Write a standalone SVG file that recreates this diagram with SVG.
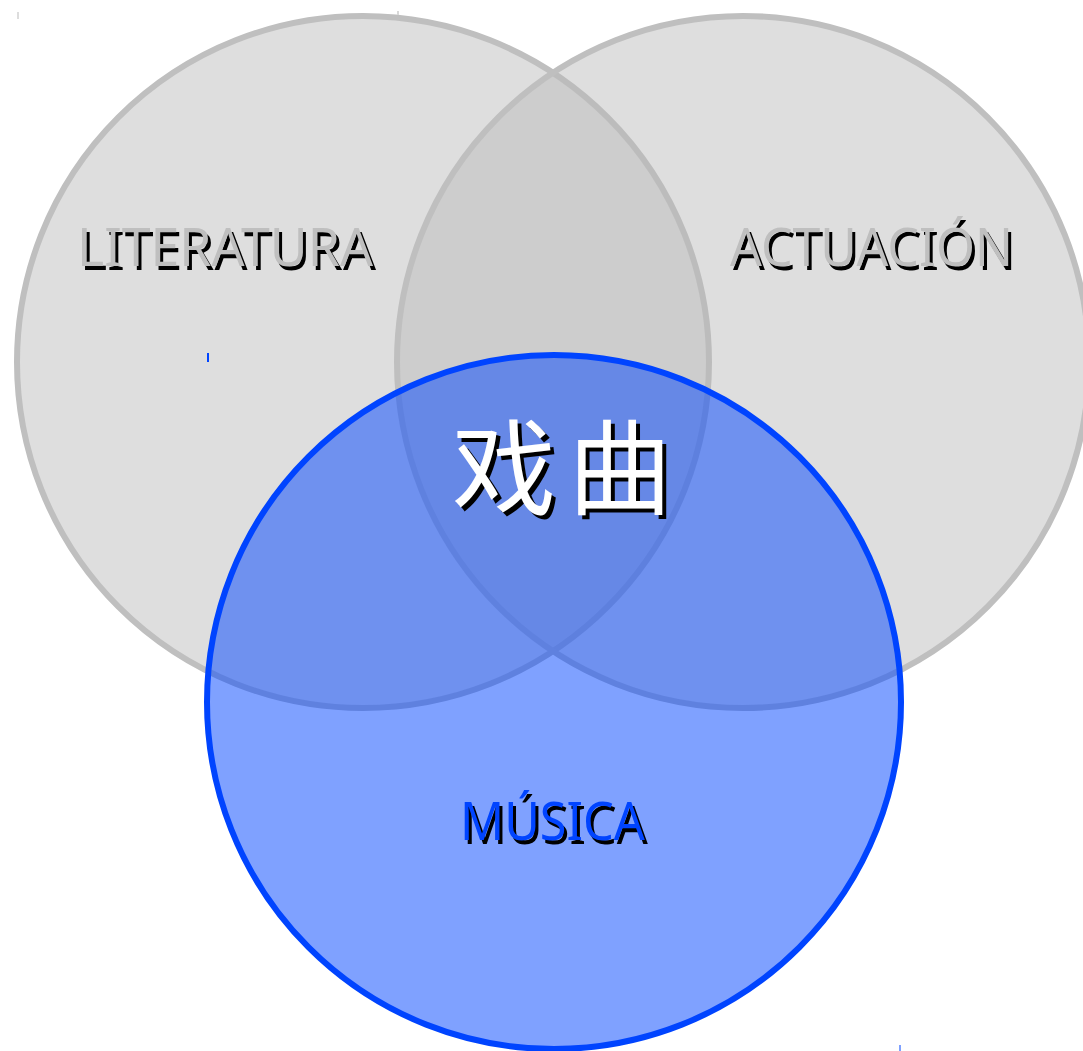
<svg xmlns="http://www.w3.org/2000/svg" width="1083" height="1051" viewBox="0 0 1083 1051">
<style>
.gc{fill:#bbbbbb;fill-opacity:0.48;stroke:#bfbfbf;stroke-width:6}
.bc{fill:#0044ff;fill-opacity:0.5;stroke:#0044ff;stroke-width:6}
.lbl{font-family:"Noto Sans","Open Sans","Liberation Sans",sans-serif;font-size:53px}
.cjk{font-family:"Noto Sans CJK SC","Noto Sans CJK TC",sans-serif;font-size:104px}
.sh{fill:#000000}
.tick{stroke-width:2}
</style>
<rect width="1083" height="1051" fill="#ffffff"/>
<g id="literatura">
<circle class="gc" cx="363" cy="362" r="346"/>
</g>
<g id="actuacion">
<circle class="gc" cx="743" cy="362" r="346"/>
</g>
<g id="musica">
<circle class="bc" cx="554" cy="702" r="347"/>
</g>
<g id="labels">
<text class="lbl sh" x="80" y="270" textLength="296" lengthAdjust="spacingAndGlyphs">LITERATURA</text>
<text class="lbl" x="77" y="266" fill="#bfbfbf" textLength="296" lengthAdjust="spacingAndGlyphs">LITERATURA</text>
<text class="lbl sh" x="733" y="270" textLength="283" lengthAdjust="spacingAndGlyphs">ACTUACIÓN</text>
<text class="lbl" x="730" y="266" fill="#bfbfbf" textLength="283" lengthAdjust="spacingAndGlyphs">ACTUACIÓN</text>
<text class="lbl sh" x="463" y="844" textLength="185" lengthAdjust="spacingAndGlyphs">MÚSICA</text>
<text class="lbl" x="460" y="840" fill="#0044ff" textLength="185" lengthAdjust="spacingAndGlyphs">MÚSICA</text>
<text class="cjk sh" x="456 572" y="511">戏曲</text>
<text class="cjk" x="452 568" y="507" fill="#ffffff">戏曲</text>
</g>
<g id="connectors">
<line class="tick" x1="18" y1="12" x2="18" y2="19" stroke="#dddddd"/>
<line class="tick" x1="398" y1="11" x2="398" y2="15" stroke="#d8d8d8"/>
<line class="tick" x1="208" y1="353" x2="208" y2="362" stroke="#0044ff"/>
<line class="tick" x1="900" y1="1045" x2="900" y2="1051" stroke="#7fa1ff"/>
</g>
</svg>
